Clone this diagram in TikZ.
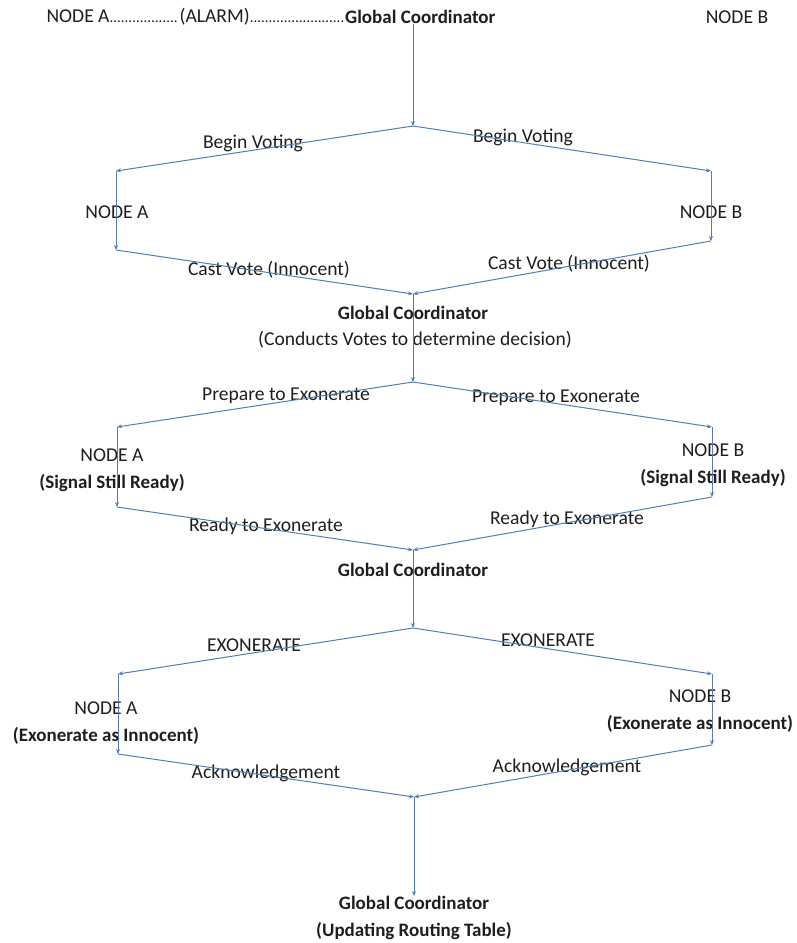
\documentclass[tikz,border=0pt]{standalone}
\usepackage{fontspec}
\setmainfont{Carlito}
\usetikzlibrary{arrows.meta}
\definecolor{lineblue}{RGB}{84,125,180}
\definecolor{txt}{RGB}{30,30,30}
\newcommand\bt[1]{{\fontsize{19}{27}\selectfont\bfseries #1}}
\begin{document}
\begin{tikzpicture}[x=1pt,y=-1pt,
  lbl/.style={inner sep=0pt,text=txt,font=\fontsize{19.6}{27}\selectfont},
  two/.style={lbl,align=center},
  conn/.style={draw=lineblue,line width=1pt,-{Stealth[length=5pt,width=4pt]}}]
\useasboundingbox (0,0) rectangle (796,943);
% top line
\node[lbl,anchor=west] (gc0) at (345,17) {\bt{Global Coordinator}};
\node[lbl,anchor=east] (alarm) at (345,17) {NODE A\makebox[70pt]{\leaders\hbox{\fontsize{15}{15}\selectfont.}\hfill}(ALARM)\makebox[95pt]{\leaders\hbox{\fontsize{15}{15}\selectfont.}\hfill}};
\node[lbl] (nbtop) at (737,17) {NODE B};
% junctions
\coordinate (j1) at (413,126);
\coordinate (a1t) at (116,171);
\coordinate (a1b) at (116,250);
\coordinate (b1t) at (711,171);
\coordinate (b1b) at (711,241);
\coordinate (j2) at (413,294);
\coordinate (j3) at (413,382);
\coordinate (a2t) at (117,427);
\coordinate (a2b) at (117,507);
\coordinate (b2t) at (712,427);
\coordinate (b2b) at (712,497);
\coordinate (j4) at (413,550);
\coordinate (j5) at (413,628);
\coordinate (a3t) at (118,674);
\coordinate (a3b) at (118,754);
\coordinate (b3t) at (712,674);
\coordinate (b3b) at (712,745);
\coordinate (j6) at (414,797);
% labels
\node[lbl] (bvl) at (253,143) {Begin Voting};
\node[lbl] (bvr) at (523,137) {Begin Voting};
\node[lbl] (na1) at (117,212) {NODE A};
\node[lbl] (nb1) at (711,212) {NODE B};
\node[lbl] (cvl) at (269,270) {Cast Vote (Innocent)};
\node[lbl] (cvr) at (569,264) {Cast Vote (Innocent)};
\node[lbl] (gc2) at (413,313) {\bt{Global Coordinator}};
\node[lbl] (gc2b) at (415,340) {(Conducts Votes to determine decision)};
\node[lbl] (pel) at (286,396) {Prepare to Exonerate};
\node[lbl] (per) at (556,398) {Prepare to Exonerate};
\node[two] (na2) at (112,470) {NODE A\\\bt{(Signal Still Ready)}};
\node[two] (nb2) at (713,465) {NODE B\\\bt{(Signal Still Ready)}};
\node[lbl] (rel) at (266,526) {Ready to Exonerate};
\node[lbl] (rer) at (567,519) {Ready to Exonerate};
\node[lbl] (gc3) at (413,570) {\bt{Global Coordinator}};
\node[lbl] (exl) at (254,645) {EXONERATE};
\node[lbl] (exr) at (548,640) {EXONERATE};
\node[two] (na3) at (106,723) {NODE A\\\bt{(Exonerate as Innocent)}};
\node[two] (nb3) at (700,711) {NODE B\\\bt{(Exonerate as Innocent)}};
\node[lbl] (akl) at (266,773) {Acknowledgement};
\node[lbl] (akr) at (567,767) {Acknowledgement};
\node[two,anchor=north] (gc4) at (414,896) {\bt{Global Coordinator}\\\bt{(Updating Routing Table)}};
% connectors
\draw[conn] (gc0.south -| j1) -- (j1);
\draw[conn] (j1) -- (a1t);
\draw[conn] (j1) -- (b1t);
\draw[conn] (a1t) -- (a1b);
\draw[conn] (b1t) -- (b1b);
\draw[conn] (a1b) -- (j2);
\draw[conn] (b1b) -- (j2);
\draw[conn] (j2) -- (j3);
\draw[conn] (j3) -- (a2t);
\draw[conn] (j3) -- (b2t);
\draw[conn] (a2t) -- (a2b);
\draw[conn] (b2t) -- (b2b);
\draw[conn] (a2b) -- (j4);
\draw[conn] (b2b) -- (j4);
\draw[conn] (j4) -- (j5);
\draw[conn] (j5) -- (a3t);
\draw[conn] (j5) -- (b3t);
\draw[conn] (a3t) -- (a3b);
\draw[conn] (b3t) -- (b3b);
\draw[conn] (a3b) -- (j6);
\draw[conn] (b3b) -- (j6);
\draw[conn] (j6) -- (gc4.north -| j6);
\end{tikzpicture}
\end{document}
